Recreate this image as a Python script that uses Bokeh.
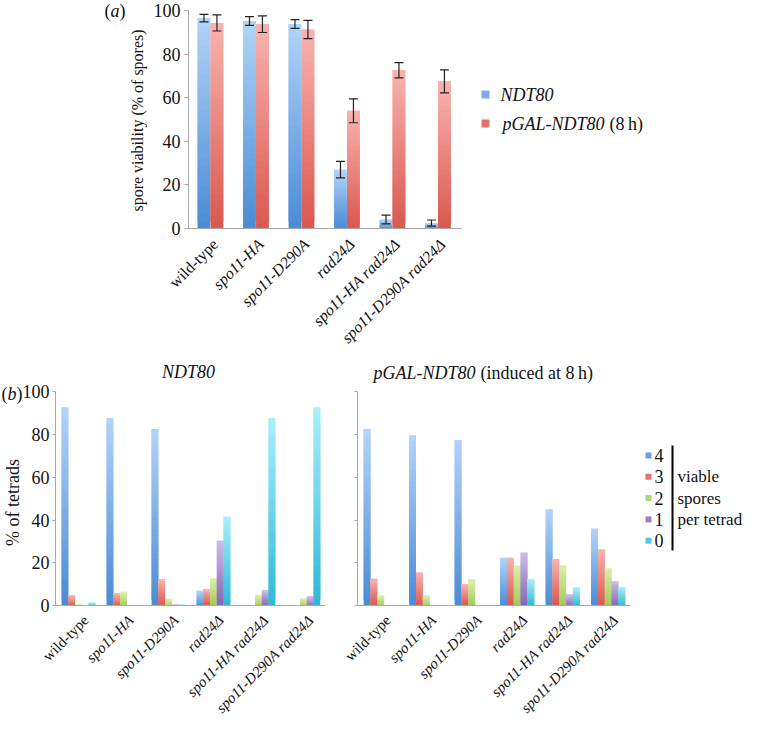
import numpy as np
from bokeh.plotting import figure
from bokeh.models import (ColumnDataSource, FixedTicker, LabelSet, Label,
                          BoxAnnotation, Range1d, LinearAxis)
from bokeh.layouts import column, row
from bokeh.core.properties import value, field
from bokeh.embed import file_html
from bokeh.resources import INLINE

# ---------------- data ----------------
strains = ["wild-type", "spo11-HA", "spo11-D290A", "rad24Δ",
           "spo11-HA rad24Δ", "spo11-D290A rad24Δ"]
strain_style = ["normal", "italic", "italic", "italic", "italic", "italic"]
y_ticks = [0, 20, 40, 60, 80, 100]

# panel (a): spore viability (% of spores)
via_ndt80 = [96.5, 95.2, 93.8, 27.0, 4.1, 2.5]
via_ndt80_err = [1.7, 2.0, 2.0, 3.8, 2.0, 1.4]
via_pgal = [94.3, 93.7, 91.3, 54.0, 72.6, 67.5]
via_pgal_err = [3.7, 3.8, 4.2, 5.5, 3.5, 5.3]

# panel (b): % of tetrads with 4/3/2/1/0 viable spores
viable_classes = ["4", "3", "2", "1", "0"]
ndt80_4 = [92.5, 87.5, 82.5, 7.0, 0.0, 0.0]
ndt80_3 = [5.0, 5.8, 12.5, 7.8, 0.0, 0.0]
ndt80_2 = [0.8, 6.6, 3.3, 12.7, 5.1, 3.4]
ndt80_1 = [0.0, 0.0, 0.6, 30.3, 7.3, 4.4]
ndt80_0 = [1.5, 0.0, 0.6, 41.5, 87.5, 92.5]

pgal_4 = [82.5, 79.5, 77.4, 22.4, 45.0, 36.0]
pgal_3 = [12.6, 15.5, 10.0, 22.4, 21.8, 26.3]
pgal_2 = [4.8, 5.0, 12.4, 18.7, 19.0, 17.4]
pgal_1 = [0.0, 0.0, 0.0, 24.8, 5.3, 11.4]
pgal_0 = [0.0, 0.0, 0.0, 12.4, 8.5, 8.8]

# ---------------- styles ----------------
FONT = "Liberation Serif"
TXT = "#111111"
AXIS_GRAY = "#a8a8a8"
C_BLUE = ("#4a8bd5", "#b2d4f9")
C_RED = ("#d9574e", "#f9b4af")
C_GREEN = ("#a3c85a", "#ddf0a8")
C_PURPLE = ("#8466b6", "#ccbde7")
C_CYAN = ("#2db8d6", "#aaf0fc")
class_colors = [C_BLUE, C_RED, C_GREEN, C_PURPLE, C_CYAN]
NSLICE = 30

cat_pos = np.arange(len(strains)) + 0.5   # category centres on the x scale


def hex2rgb(h):
    h = h.lstrip("#")
    return np.array([int(h[i:i + 2], 16) for i in (0, 2, 4)], dtype=float)


def rgb2hex(c):
    c = np.clip(np.round(c), 0, 255).astype(int)
    return "#%02x%02x%02x" % tuple(c)


def mix(cols, m):
    cb, ct = hex2rgb(cols[0]), hex2rgb(cols[1])
    return rgb2hex(cb + (ct - cb) * m)


def gradient_source(vals, cols, off):
    xs, bs, ts, cs = [], [], [], []
    for x, v in zip(cat_pos + off, vals):
        if v <= 0:
            continue
        for i in range(NSLICE):
            xs.append(x)
            bs.append(v * i / NSLICE)
            ts.append(v * min(i + 2, NSLICE) / NSLICE)
            cs.append(mix(cols, (i + 0.5) / NSLICE))
    return ColumnDataSource(dict(x=xs, bottom=bs, top=ts, color=cs))


class Panel:
    """A figure whose frame fills its canvas; axes sit at fixed locations."""

    def __init__(self, width, height, page_left, page_top, axis_page_x,
                 cat_px, y0_page, y100_page):
        self.w, self.h = width, height
        self.left, self.top = page_left, page_top
        self.sx = cat_px
        self.sy = (y0_page - y100_page) / 100.0
        self.x0 = -(axis_page_x - page_left) / self.sx
        self.y0 = -(page_top + height - y0_page) / self.sy
        p = figure(width=width, height=height,
                   x_range=Range1d(self.x0, self.x0 + width / self.sx),
                   y_range=Range1d(self.y0, self.y0 + height / self.sy),
                   x_axis_type=None, y_axis_type=None, title=None,
                   min_border=0, min_border_left=0, min_border_right=0,
                   min_border_top=0, min_border_bottom=0,
                   toolbar_location=None, output_backend="svg")
        p.outline_line_color = None
        p.background_fill_color = "white"
        p.border_fill_color = "white"
        self.p = p

    def dx(self, page_x):
        return self.x0 + (page_x - self.left) / self.sx

    def dy(self, page_y):
        return self.y0 + (self.top + self.h - page_y) / self.sy

    def axes(self, show_labels=True, tick_size="18px", tick_out=4,
             standoff=4):
        p = self.p
        xax = LinearAxis(fixed_location=0, bounds=(0, len(strains)),
                         ticker=FixedTicker(ticks=[]))
        xax.axis_line_color = AXIS_GRAY
        xax.major_tick_line_color = None
        xax.minor_tick_line_color = None
        p.add_layout(xax, "below")
        yax = LinearAxis(fixed_location=0, bounds=(0, 100),
                         ticker=FixedTicker(ticks=y_ticks))
        yax.axis_line_color = AXIS_GRAY
        yax.major_tick_line_color = AXIS_GRAY
        yax.major_tick_out = tick_out
        yax.major_tick_in = 0
        yax.minor_tick_line_color = None
        yax.major_label_text_font = FONT
        yax.major_label_text_font_size = tick_size
        yax.major_label_text_color = TXT
        yax.major_label_standoff = standoff
        if not show_labels:
            yax.major_label_overrides = {t: "" for t in y_ticks}
        p.add_layout(yax, "left")

    def text(self, page_x, page_y, text, size="18px", style="normal",
             align="left", angle=0):
        self.p.add_layout(Label(x=self.dx(page_x), y=self.dy(page_y),
                                text=text, text_font=FONT,
                                text_font_size=size, text_font_style=style,
                                text_align=align, text_baseline="middle",
                                angle=angle, angle_units="deg",
                                text_color=TXT))

    def box(self, l, r, t, b, color):
        self.p.add_layout(BoxAnnotation(left=self.dx(l), right=self.dx(r),
                                        top=self.dy(t), bottom=self.dy(b),
                                        fill_color=color, fill_alpha=1.0,
                                        line_color=None, level="overlay"))

    def cat_labels(self, x_off, y_off, size):
        src = ColumnDataSource(dict(x=list(cat_pos), y=[0] * len(strains),
                                    text=strains, style=strain_style))
        self.p.add_layout(LabelSet(x="x", y="y", text="text", source=src,
                                   angle=45, angle_units="deg",
                                   text_align="right", text_baseline="middle",
                                   x_offset=x_off, y_offset=y_off,
                                   text_font=value(FONT),
                                   text_font_size=value(size),
                                   text_font_style=field("style"),
                                   text_color=TXT))

    def bars(self, vals, cols, off, width):
        src = gradient_source(vals, cols, off)
        self.p.vbar(x="x", width=width, bottom="bottom", top="top",
                    fill_color="color", line_color=None, source=src)


# ---------------- panel (a) ----------------
A = Panel(742, 345, 8, 8, 196, 45.5, 236, 18)
A.axes(tick_size="18px", tick_out=4, standoff=4)
for vals, errs, cols, off in [(via_ndt80, via_ndt80_err, C_BLUE, -0.16),
                              (via_pgal, via_pgal_err, C_RED, 0.125)]:
    A.bars(vals, cols, off, 0.28)
    esrc = ColumnDataSource(dict(x=list(cat_pos + off),
                                 lo=list(np.array(vals) - np.array(errs)),
                                 hi=list(np.array(vals) + np.array(errs))))
    A.p.segment(x0="x", y0="lo", x1="x", y1="hi", line_color="#222222",
                line_width=1.2, source=esrc)
    A.p.scatter(x="x", y="hi", marker="dash", size=9, line_color="#222222",
                line_width=1.2, source=esrc)
    A.p.scatter(x="x", y="lo", marker="dash", size=9, line_color="#222222",
                line_width=1.2, source=esrc)
A.cat_labels(4, -13, "16px")
A.text(145, 128, "spore viability (% of spores)", size="16px",
       align="center", angle=90)
A.text(112, 18, "(")
A.text(118, 18, "a", style="italic")
A.text(127, 18, ")")
# legend (a)
A.box(489, 497, 98, 106, mix(C_BLUE, 0.45))
A.box(489, 497, 127, 135, mix(C_RED, 0.3))
A.text(508, 102, "NDT80", style="italic")
A.text(612, 131, "pGAL-NDT80", style="italic", align="right")
A.text(617, 131, "(8\u2009h)")

# ---------------- panel (b) ----------------
B1 = Panel(328, 371, 8, 353, 63, 45.0, 613.3, 399)
B1.axes(tick_size="18px", tick_out=3, standoff=3)
B2 = Panel(414, 371, 336, 353, 365, 45.5, 613.3, 399)
B2.axes(show_labels=False, tick_out=3)

offs_b = [-0.29, -0.14, 0.01, 0.16, 0.31]
for P, series in [(B1, [ndt80_4, ndt80_3, ndt80_2, ndt80_1, ndt80_0]),
                  (B2, [pgal_4, pgal_3, pgal_2, pgal_1, pgal_0])]:
    for vals, cols, off in zip(series, class_colors, offs_b):
        P.bars(vals, cols, off, 0.15)
    P.cat_labels(8, -12, "15px")

B1.text(20, 510, "% of tetrads", align="center", angle=90)
B1.text(9, 401, "(")
B1.text(15, 401, "b", style="italic")
B1.text(24, 401, ")")
B1.text(196, 379, "NDT80", style="italic", align="center")
B2.text(483, 380, "pGAL-NDT80", style="italic", align="right")
B2.text(488, 380, "(induced at 8\u2009h)")

# legend (b)
leg_y = [463, 484.3, 505.6, 526.9, 548.2]
for name, cols, yy in zip(viable_classes, class_colors, leg_y):
    B2.box(653, 659, yy - 3, yy + 3, mix(cols, 0.3))
    B2.text(662, yy, name)
B2.box(679, 681, 453, 558, "#000000")
B2.text(685, leg_y[1], "viable", size="17px")
B2.text(685, leg_y[2], "spores", size="17px")
B2.text(685, leg_y[3], "per tetrad", size="17px")

layout = column(A.p, row(B1.p, B2.p))
open("out.html", "w").write(file_html(layout, INLINE))
